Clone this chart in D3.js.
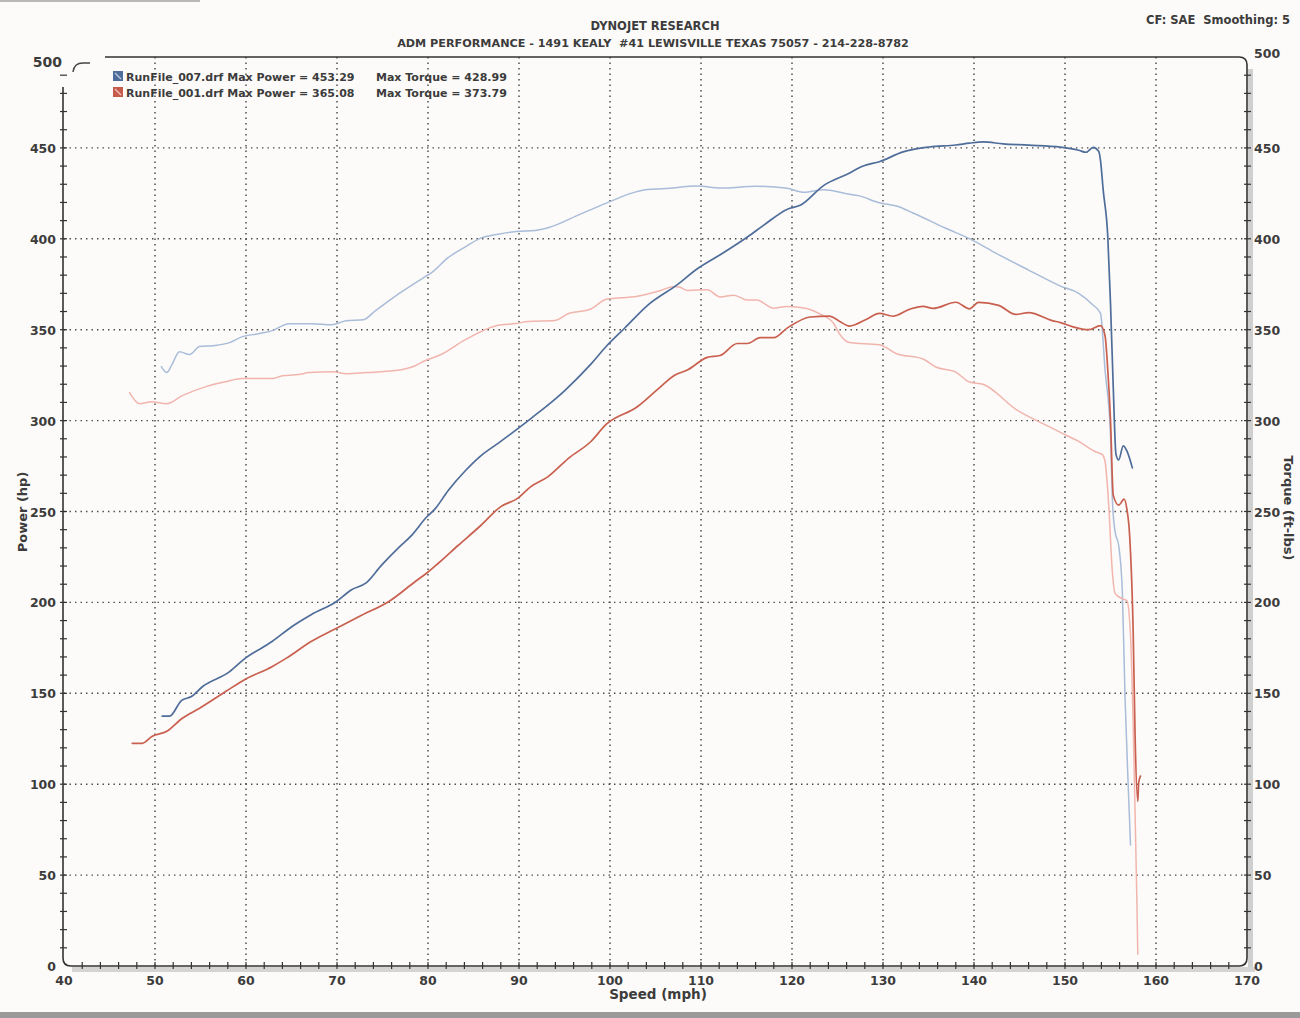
<!DOCTYPE html>
<html>
<head>
<meta charset="utf-8">
<script src="https://cdn.jsdelivr.net/npm/d3@7/dist/d3.min.js"></script>
<style>
html,body{margin:0;padding:0;background:#fcfbf9;}
svg{display:block;}
text{font-family:"DejaVu Sans",Verdana,sans-serif;font-weight:bold;fill:#3c3c3c;white-space:pre;}
</style>
</head>
<body>
<svg id="chart" width="1300" height="1018"></svg>
<script>
// ---------- data (speed mph, value) ----------
const titleLines = ["DYNOJET RESEARCH", "ADM PERFORMANCE - 1491 KEALY  #41 LEWISVILLE TEXAS 75057 - 214-228-8782"];
const cornerNote = "CF: SAE  Smoothing: 5";
const legendRows = [
  {name: "RunFile_007.drf Max Power = 453.29", torque: "Max Torque = 428.99", color: "#4f6d9a"},
  {name: "RunFile_001.drf Max Power = 365.08", torque: "Max Torque = 373.79", color: "#c85a4c"}
];
const xTicks = [40,50,60,70,80,90,100,110,120,130,140,150,160,170];
const yTicks = [0,50,100,150,200,250,300,350,400,450,500];

const power007 = [[50.8,137.4],[51.6,137.4],[52.9,146],[54.0,148.2],[55.2,153.6],[58.2,161.9],[59.7,168.4],[62.9,178.6],[65.1,186.9],[67.2,193.4],[69.9,200.4],[71.6,207],[73.2,210.7],[74.9,220.5],[76.8,230.3],[78.2,236.9],[79.8,246.7],[80.8,251.6],[82.2,261.4],[84.1,272.4],[85.8,280.6],[87.7,287.5],[91.3,301.1],[95.0,316.4],[97.9,331.1],[99.6,340.9],[101.6,350.8],[104.1,363.3],[107.4,374.8],[109.6,383.5],[112.1,391.2],[115.1,401],[116.9,407.5],[119.5,416.3],[120.9,418.4],[123.5,429.4],[126.0,435.4],[127.9,440.2],[129.6,442.4],[132.2,447.8],[135.1,450.5],[138.0,451.6],[139.5,452.6],[141.0,453.3],[143.2,452.2],[146.0,451.5],[149.5,450.4],[151.5,448.7],[152.3,447.6],[153.1,450.3],[153.7,448.1],[153.9,443.2],[154.2,426.6],[154.7,401.4],[155.0,364.6],[155.3,318.6],[155.6,281.5],[155.9,278.4],[156.4,286.1],[156.8,283.3],[157.4,274]];
const torque007 = [[50.7,329.7],[51.3,326.4],[51.8,330.2],[52.7,337.9],[53.8,336.3],[54.9,340.7],[56.3,341.2],[58.2,342.9],[59.6,346.2],[61.4,347.8],[62.9,349.5],[64.7,353.3],[67.2,353.3],[69.4,352.7],[71.0,354.9],[72.9,355.5],[74.2,360.4],[76.0,367],[76.8,369.8],[79.7,379.2],[80.4,381.4],[82.2,389.6],[84.1,395.6],[85.8,400.4],[87.7,402.5],[89.7,404],[91.8,404.6],[93.2,406.1],[96.8,413.7],[99.6,419.6],[102.3,425],[104.1,427.1],[106.0,427.6],[109.6,429],[112.1,427.9],[116.1,428.9],[119.5,427.8],[121.3,425.6],[123.5,427],[126.0,424.8],[127.4,423.6],[129.6,419.8],[131.5,418],[133.3,414.2],[136.9,405.8],[139.6,399.8],[142.4,392.1],[146.0,382.8],[149.5,374],[151.5,370],[153.1,363.5],[153.9,359],[154.4,328],[155.0,292],[155.2,257],[155.5,239],[155.9,231.3],[156.3,206],[156.6,147.3],[157.0,92.3],[157.2,66.5]];
const power001 = [[47.5,122.5],[48.6,122.5],[49.7,126.4],[51.3,129.1],[53.0,136.3],[54.9,141.8],[57.8,151.1],[59.7,157.1],[62.9,164.8],[64.4,169.2],[67.2,178.6],[69.9,185.7],[72.7,192.9],[75.7,200.5],[78.6,211.5],[79.8,215.9],[81.1,221.4],[83.3,231.3],[85.8,242.3],[88.0,252.7],[89.8,257.1],[91.3,263.7],[93.2,269.2],[95.4,279.1],[97.9,288.5],[99.6,298],[103.0,307.6],[105.2,317],[107.1,325],[108.5,327.8],[110.7,334.8],[112.1,335.8],[114.0,342.4],[115.1,342.4],[116.5,345.6],[118.0,345.6],[119.5,351],[122.0,357],[124.1,357.5],[125.2,354.7],[126.3,352],[128.2,355.8],[129.6,359],[131.1,357.4],[132.9,361.2],[134.4,362.8],[135.5,361.7],[138.0,365.1],[139.5,361.5],[140.5,365],[142.7,363.4],[144.6,358.4],[146.0,359.4],[148.6,355],[149.5,353.9],[150.8,351.7],[152.6,350],[153.9,352.2],[154.4,346.7],[154.7,328],[155.0,300.5],[155.3,259],[155.9,253.5],[156.5,256.8],[156.8,251.3],[157.1,237],[157.5,182],[157.7,127],[158.0,90.5],[158.1,101],[158.3,104.5]];
const torque001 = [[47.2,315.4],[48.3,309.3],[49.6,310.4],[51.3,309.3],[53.0,313.7],[55.6,318.7],[57.8,321.4],[59.6,323.1],[62.9,323.1],[64.0,324.7],[65.8,325.3],[66.9,326.4],[69.6,326.9],[71.0,325.8],[73.2,326.4],[76.4,327.5],[78.6,330.2],[79.6,332.8],[81.5,336.5],[84.1,344.5],[87.7,352.5],[89.7,353.4],[91.0,354.5],[93.9,355],[95.4,358.8],[97.9,361.4],[99.6,366.8],[103.0,368.4],[105.2,371],[107.1,373.8],[107.7,373.3],[108.5,371.6],[110.7,372],[112.1,368],[113.6,369],[115.1,366.3],[116.1,366.3],[118.0,361.8],[119.4,362.8],[121.6,361.7],[123.0,358.8],[124.6,353.3],[125.2,347.8],[126.3,342.9],[129.6,341.7],[131.5,336.8],[134.4,333.9],[135.8,329.5],[138.0,326.7],[139.5,321.2],[141.0,320],[144.6,306.2],[148.2,296.8],[149.5,293.5],[151.5,288.6],[153.3,283],[154.1,281.3],[154.4,277.5],[154.8,254],[155.2,217],[155.5,205],[156.3,202],[156.8,201],[157.2,182],[157.6,108.5],[157.9,36],[158.0,6.5]];

const series = [
  {data: torque007, color: "#a9bcd9", width: 1.5},
  {data: torque001, color: "#f1b5ae", width: 1.5},
  {data: power001, color: "#c9604f", width: 1.7},
  {data: power007, color: "#4f6d9a", width: 1.7}
];

// ---------- layout ----------
const svg = d3.select("#chart");
const x = d3.scaleLinear().domain([40,170]).range([64,1247]);
const y = d3.scaleLinear().domain([0,500]).range([966,57]);
const X0 = x(40), X1 = x(170), Y0 = y(0), Y1 = y(500);

// paper tone
svg.append("rect").attr("width",1300).attr("height",1018).attr("fill","#fcfbf9");
svg.append("rect").attr("x",0).attr("y",1012).attr("width",1300).attr("height",6).attr("fill","#9a9a9a");
svg.append("rect").attr("x",0).attr("y",0).attr("width",200).attr("height",2).attr("fill","#b8b8b8");

// shadows
svg.append("rect").attr("x",X1+1).attr("y",Y1+12).attr("width",5).attr("height",Y0-Y1-10).attr("fill","#cfcfcf");
svg.append("rect").attr("x",X0+8).attr("y",Y0+1).attr("width",X1-X0).attr("height",5).attr("fill","#d4d4d4");

// grid
const gx = xTicks.filter(d => d > 40 && d < 170);
const gy = yTicks.filter(d => d > 0 && d < 500);
svg.append("g").selectAll("line").data(gx).join("line")
  .attr("x1", d => x(d)).attr("x2", d => x(d)).attr("y1", Y1).attr("y2", Y0)
  .attr("stroke","#444").attr("stroke-width",1.4).attr("stroke-dasharray","1.4,4.1");
svg.append("g").selectAll("line").data(gy).join("line")
  .attr("x1", X0).attr("x2", X1).attr("y1", d => y(d)).attr("y2", d => y(d))
  .attr("stroke","#444").attr("stroke-width",1.4).attr("stroke-dasharray","1.4,4.1");

// frame
const r = 8;
svg.append("path")
  .attr("d", `M${X0-1},${Y1+30} L${X0-1},${Y0-r} Q${X0-1},${Y0} ${X0-1+r},${Y0} L${X1-r},${Y0} Q${X1},${Y0} ${X1},${Y0-r} L${X1},${Y1+r} Q${X1},${Y1} ${X1-r},${Y1} L${X0+41},${Y1}`)
  .attr("fill","none").attr("stroke","#333").attr("stroke-width",1.6);
svg.append("path")
  .attr("d", `M${X0+9},${Y1+15} Q${X0+10},${Y1+6} ${X0+19},${Y1+6} L${X0+26},${Y1+6}`)
  .attr("fill","none").attr("stroke","#444").attr("stroke-width",1.4);

// minor ticks
const minorY = d3.range(10,500,10);
svg.append("g").selectAll("line").data(minorY).join("line")
  .attr("x1", X0-4).attr("x2", X0+3).attr("y1", d => y(d)).attr("y2", d => y(d))
  .attr("stroke","#333").attr("stroke-width",1.2);
svg.append("g").selectAll("line").data(minorY).join("line")
  .attr("x1", X1-3).attr("x2", X1+4).attr("y1", d => y(d)).attr("y2", d => y(d))
  .attr("stroke","#333").attr("stroke-width",1.2);
const minorX = d3.range(42,170,2);
svg.append("g").selectAll("line").data(minorX).join("line")
  .attr("x1", d => x(d)).attr("x2", d => x(d)).attr("y1", Y0-4).attr("y2", Y0+3)
  .attr("stroke","#333").attr("stroke-width",1.2);

// tick labels
svg.append("g").selectAll("text").data(yTicks.filter(d=>d<500)).join("text")
  .attr("x", X0-8).attr("y", d => y(d)+5).attr("text-anchor","end")
  .attr("font-size",12.5).text(d => d);
svg.append("text").attr("x", X0-2).attr("y", Y1+10).attr("text-anchor","end")
  .attr("font-size",14).text("500");
svg.append("g").selectAll("text").data(yTicks).join("text")
  .attr("x", X1+7).attr("y", d => y(d) + (d===500 ? 1 : 5)).attr("text-anchor","start")
  .attr("font-size",12.5).text(d => d);
svg.append("g").selectAll("text").data(xTicks).join("text")
  .attr("x", d => x(d)).attr("y", Y0+19).attr("text-anchor","middle")
  .attr("font-size",12.5).text(d => d);

// axis titles
svg.append("text").attr("x",658).attr("y",999).attr("text-anchor","middle").attr("font-size",13.5).text("Speed (mph)");
svg.append("text").attr("transform","translate(27,512) rotate(-90)").attr("text-anchor","middle").attr("font-size",13).text("Power (hp)");
svg.append("text").attr("transform","translate(1284,508) rotate(90)").attr("text-anchor","middle").attr("font-size",13).text("Torque (ft-lbs)");

// titles
svg.append("text").attr("x",655).attr("y",30).attr("text-anchor","middle").attr("font-size",11.5).text(titleLines[0]);
svg.append("text").attr("x",653).attr("y",47).attr("text-anchor","middle").attr("font-size",11.2).text(titleLines[1]);
svg.append("text").attr("x",1290).attr("y",24).attr("text-anchor","end").attr("font-size",11.5).text(cornerNote);

// curves
const line = d3.line().x(d => x(d[0])).y(d => y(d[1])).curve(d3.curveMonotoneX);
svg.append("g").selectAll("path").data(series).join("path")
  .attr("d", d => line(d.data)).attr("fill","none")
  .attr("stroke", d => d.color).attr("stroke-width", d => d.width)
  .attr("stroke-linejoin","round").attr("stroke-linecap","round");

// legend
const lg = svg.append("g").selectAll("g").data(legendRows).join("g")
  .attr("transform", (d,i) => `translate(113,${71 + i*16})`);
lg.append("rect").attr("width",10).attr("height",10).attr("fill", d => d.color);
lg.append("line").attr("x1",2).attr("y1",2).attr("x2",8).attr("y2",8).attr("stroke","#fff").attr("stroke-opacity",0.6).attr("stroke-width",1.5);
lg.append("text").attr("x",13).attr("y",10).attr("font-size",11).text(d => d.name);
lg.append("text").attr("x",263).attr("y",10).attr("font-size",11).text(d => d.torque);
</script>
</body>
</html>
